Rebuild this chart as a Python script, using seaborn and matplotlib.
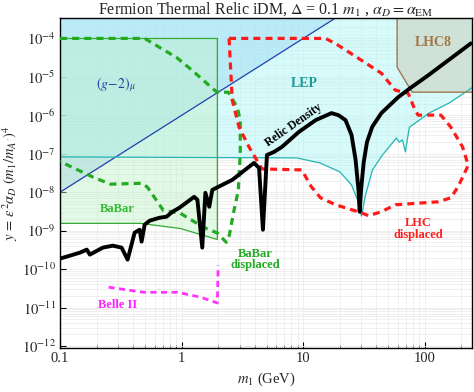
import numpy as np
import pandas as pd
import matplotlib
matplotlib.use("Agg")
import matplotlib.pyplot as plt
from matplotlib.ticker import LogLocator, FixedLocator, FixedFormatter, NullFormatter
import seaborn as sns

# --- data (m1 in GeV, y dimensionless) ---
relic_x = [0.100, 0.121, 0.146, 0.166, 0.176, 0.225, 0.272, 0.321, 0.360, 0.411, 0.452, 0.469,
           0.497, 0.546, 0.658, 0.752, 0.841, 0.959, 1.27, 1.35, 1.48, 1.57, 1.69, 1.79, 2.33,
           2.61, 3.94, 4.34, 4.67, 5.04, 5.74, 6.68, 9.20, 12.7, 17.1, 19.5, 22.3, 25.0, 27.0,
           28.5, 29.2, 30.0, 31.5, 33.5, 37.0, 44.0, 60.5, 75.9, 107, 240]
relic_y = [1.88e-10, 2.25e-10, 2.69e-10, 3.22e-10, 2.39e-10, 3.63e-10, 4.08e-10, 3.63e-10,
           1.77e-10, 8.87e-10, 1.06e-9, 5.19e-10, 1.43e-9, 1.82e-9, 2.17e-9, 2.31e-9, 3.10e-9,
           3.94e-9, 7.60e-9, 6.35e-9, 3.63e-10, 9.64e-9, 4.19e-9, 1.15e-8, 1.75e-8, 2.09e-8,
           5.78e-8, 4.29e-8, 1.06e-9, 9.31e-8, 1.11e-7, 1.50e-7, 3.67e-7, 7.52e-7, 1.14e-6,
           1.01e-6, 7.52e-7, 3.1e-7, 7.0e-8, 1.2e-8, 3.1e-9, 1.2e-8, 6.0e-8, 2.0e-7, 5.0e-7,
           1.14e-6, 2.96e-6, 5.07e-6, 1.10e-5, 7.41e-5]

g2_x = [0.1, 18.5]
g2_y = [1e-8, 3.4e-4]

lep_x = [0.1, 8.85, 13.7, 20.0, 25.0, 28.0, 30.2, 32.6, 37.2, 44.9, 54.2, 58.5, 61.7, 65.6,
         69.3, 74.8, 109, 159, 245]
lep_y = [8.3e-8, 7.8e-8, 5.8e-8, 3.4e-8, 1.55e-8, 6.3e-9, 2.4e-9, 8.5e-9, 3.8e-8, 9.3e-8,
         1.9e-7, 2.57e-7, 2.0e-7, 2.3e-7, 1.12e-7, 4.9e-7, 1.15e-6, 2.09e-6, 5.2e-6]

babar_x = [0.1, 0.458, 0.978, 1.97]
babar_y = [1.55e-9, 1.55e-9, 1.14e-9, 5.9e-10]

lhc8_x = [59.3, 59.3, 78.9, 245, 245]
lhc8_y = [4e-4, 1.78e-5, 4.0e-6, 4.0e-6, 4e-4]

babar_disp_x = [0.1, 0.497, 0.658, 0.906, 1.22, 1.79, 1.96, 2.42, 2.87, 3.04, 3.04, 2.93,
                2.67, 2.47, 2.33, 1.97, 1.51, 0.977, 0.708, 0.524, 0.476, 0.260, 0.188, 0.1]
babar_disp_y = [1e-4, 1e-4, 5.85e-5, 3.22e-5, 1.48e-5, 5.07e-6, 3.99e-6, 3.99e-6, 1.62e-6,
                7.4e-7, 1.03e-7, 1.12e-8, 2.84e-9, 7.6e-10, 5.0e-10, 8.7e-10, 1.23e-9,
                2.84e-9, 3.38e-9, 1.35e-8, 1.71e-8, 1.62e-8, 2.45e-8, 6.3e-8]

lhc_disp_x = [2.46, 15.3, 19.5, 30.2, 44.0, 57.3, 73.1, 83.4, 88.3, 136, 164, 205, 228, 188,
              164, 129, 57.3, 44.0, 34.4, 30.2, 18.5, 13.9, 11.7, 9.75, 4.58, 3.59, 2.97,
              2.61, 2.46]
lhc_disp_y = [1e-4, 1e-4, 6.6e-5, 2.69e-5, 1.24e-5, 4.5e-6, 3.76e-6, 1.36e-6, 1.01e-6,
              1.01e-6, 4.94e-7, 1.5e-7, 5.0e-8, 1.38e-8, 7.16e-9, 5.64e-9, 4.72e-9, 3.10e-9,
              2.45e-9, 2.92e-9, 4.72e-9, 7.16e-9, 1.38e-8, 3.8e-8, 4.04e-8, 1.5e-7, 4.94e-7,
              2.48e-6, 1e-4]

belle_x = [0.251, 0.485, 0.924, 1.43, 1.97, 2.00]
belle_y = [3.4e-11, 2.5e-11, 2.5e-11, 1.87e-11, 1.32e-11, 1.26e-10]

x_ticks = [0.1, 1, 10, 100]
x_ticklabels = ['0.1', '1', '10', '100']
y_exps = [-12, -11, -10, -9, -8, -7, -6, -5, -4]

# --- style ---
sns.set_style("whitegrid")
plt.rcParams['font.family'] = ['Liberation Serif', 'DejaVu Serif']
plt.rcParams['mathtext.fontset'] = 'stix'

fig = plt.figure(figsize=(4.74, 3.92), dpi=100)
ax = fig.add_axes([60 / 474, 1 - 348 / 392, 412 / 474, 330 / 392])
ax.set_xscale('log')
ax.set_yscale('log')
xmin, xmax = 0.1, 245
ymin, ymax = 10 ** -12.05, 10 ** -3.47
top = 1e-3

# fills
ax.fill_between(g2_x, g2_y, top, color='#9cc8f5', alpha=0.55, lw=0, zorder=1)
ax.fill_between(lep_x, lep_y, top, color='#b0f6f6', alpha=0.5, lw=0, zorder=1)
ax.fill_between(babar_x, babar_y, 1e-4, color='#c0f2c8', alpha=0.45, lw=0, zorder=1)
ax.fill(lhc8_x, lhc8_y, color='#cfdcd0', alpha=0.8, lw=0, zorder=1)

# boundary lines
ax.plot(g2_x, g2_y, color='#2540b0', lw=0.9, zorder=2)
ax.plot(lep_x, lep_y, color='#25b5b5', lw=0.9, zorder=2)
ax.plot(babar_x + [1.97], babar_y + [1e-4], color='#33aa33', lw=0.9, zorder=2)
ax.plot([0.1, 1.97], [1e-4, 1e-4], color='#33aa33', lw=0.9, zorder=2)
ax.plot(lhc8_x[:4], lhc8_y[:4], color='#a07850', lw=1.0, zorder=2)

df_bd = pd.DataFrame({'x': babar_disp_x, 'y': babar_disp_y})
sns.lineplot(data=df_bd, x='x', y='y', sort=False, estimator=None, ax=ax,
             color='#22aa22', lw=2.3, zorder=3).lines[-1].set_dashes([2.2, 1.6])
df_lhc = pd.DataFrame({'x': lhc_disp_x, 'y': lhc_disp_y})
sns.lineplot(data=df_lhc, x='x', y='y', sort=False, estimator=None, ax=ax,
             color='#ff1a1a', lw=2.3, zorder=3).lines[-1].set_dashes([2.2, 1.6])
df_belle = pd.DataFrame({'x': belle_x, 'y': belle_y})
sns.lineplot(data=df_belle, x='x', y='y', sort=False, estimator=None, ax=ax,
             color='#ff33ff', lw=2.0, zorder=3).lines[-1].set_dashes([2.2, 1.6])
df_relic = pd.DataFrame({'x': relic_x, 'y': relic_y})
sns.lineplot(data=df_relic, x='x', y='y', sort=False, estimator=None, ax=ax,
             color='black', lw=2.8, zorder=4)

# labels inside
ax.text(0.29, 6.4e-6, r'$(g\!-\!2)_\mu$', color='#2540a0', fontsize=10,
        ha='center', va='center')
ax.text(10.2, 6.7e-6, 'LEP', color='#1a9a9a', fontsize=10, fontweight='bold',
        ha='center', va='center')
ax.text(117, 7.9e-5, 'LHC8', color='#a07848', fontsize=10, fontweight='bold',
        ha='center', va='center')
ax.text(8.3, 5.5e-7, 'Relic Density', color='black', fontsize=8.5, fontweight='bold',
        ha='center', va='center', rotation=35)
ax.text(0.297, 3.6e-9, 'BaBar', color='#33bb33', fontsize=9, fontweight='bold',
        ha='center', va='center')
ax.text(4.04, 1.8e-10, 'BaBar\ndisplaced', color='#22aa22', fontsize=9, fontweight='bold',
        ha='center', va='center', linespacing=0.95)
ax.text(88, 1.1e-9, 'LHC\ndisplaced', color='#ff2020', fontsize=9, fontweight='bold',
        ha='center', va='center', linespacing=0.95)
ax.text(0.30, 1.15e-11, 'Belle II', color='#ff22ff', fontsize=9, fontweight='bold',
        ha='center', va='center')

# axes
ax.set_xlim(xmin, xmax)
ax.set_ylim(ymin, ymax)
ax.xaxis.set_major_locator(FixedLocator(x_ticks))
ax.xaxis.set_major_formatter(FixedFormatter(x_ticklabels))
ax.xaxis.set_minor_locator(LogLocator(base=10, subs=np.arange(2, 10), numticks=20))
ax.xaxis.set_minor_formatter(NullFormatter())
ax.yaxis.set_major_locator(FixedLocator([10.0 ** e for e in y_exps]))
ax.yaxis.set_major_formatter(FixedFormatter([r'$10^{%d}$' % e for e in y_exps]))
ax.yaxis.set_minor_locator(LogLocator(base=10, subs=np.arange(2, 10), numticks=20))
ax.yaxis.set_minor_formatter(NullFormatter())
ax.grid(True, which='both', color='#ececec', lw=0.6)
ax.set_axisbelow(True)
ax.tick_params(axis='both', which='major', direction='in', length=4, width=0.8,
               labelsize=10.5, color='black', bottom=True, left=True, pad=3)
ax.tick_params(axis='x', which='minor', direction='in', length=2.5, width=0.6, bottom=True)
ax.tick_params(axis='y', which='minor', length=0)
for s in ax.spines.values():
    s.set_color('black')
    s.set_linewidth(1.0)

ax.set_xlabel(r'$m_1$ (GeV)', fontsize=10.5, labelpad=4)
ax.set_ylabel(r"$y\, =\, \epsilon^2\alpha_D\;(m_1/m_{A'})^4$", fontsize=10.5, labelpad=1)
ax.set_title(r'Fermion Thermal Relic iDM, $\Delta$ = 0.1 $m_1$ , $\alpha_D = \alpha_{\rm EM}$',
             fontsize=11.5, pad=2)

fig.savefig('out.png', dpi=100)
